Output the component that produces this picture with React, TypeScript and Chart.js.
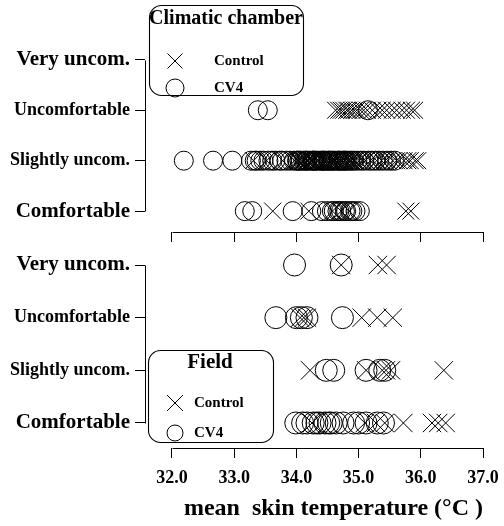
import React, { useEffect, useRef } from 'react';
import { Chart, registerables } from 'chart.js';

Chart.register(...registerables);

const SERIF = "'Liberation Serif', 'Times New Roman', Times, serif";

// category index: 0 = Comfortable ... 3 = Very uncom.
const COMFORT_LABELS = ['Comfortable', 'Slightly uncom.', 'Uncomfortable', 'Very uncom.'];
const COMFORT_TICKS = [0, 1, 2, 3];
const TEMP_TICKS = [32, 33, 34, 35, 36, 37];
const SERIES_NAMES = ['Control', 'CV4'];
const X_TITLE = 'mean  skin temperature (°C )';
const PANEL_TITLES = ['Climatic chamber', 'Field'];

// ---- Climatic chamber (mean skin temperature, °C) ----
const chamberControlComfortable = [33.62, 34.2, 34.58, 34.72, 34.85, 35.76, 35.84];
const chamberControlSlightly = [
  33.31, 33.52, 33.78, 33.97, 34.02, 34.04, 34.09, 34.11, 34.13, 34.17, 34.19, 34.24, 34.26, 34.28,
  34.33, 34.36, 34.41, 34.44, 34.46, 34.49, 34.53, 34.56, 34.58, 34.61, 34.63, 34.67, 34.71, 34.74,
  34.77, 34.79, 34.83, 34.86, 34.88, 34.92, 34.94, 35.01, 35.07, 35.11, 35.19, 35.23, 35.29, 35.37,
  35.43, 35.47, 35.55, 35.61, 35.65, 35.73, 35.79, 35.83, 35.91, 35.95,
];
const chamberControlUncomfortable = [
  34.63, 34.68, 34.72, 34.76, 34.81, 34.84, 34.89, 34.93, 34.97, 35.03, 35.08, 35.14, 35.22, 35.31,
  35.38, 35.45, 35.54, 35.61, 35.7, 35.77, 35.85, 35.9,
];
const chamberControlVeryUncom: number[] = [];

const chamberCV4Comfortable = [
  33.17, 33.29, 33.94, 34.24, 34.41, 34.49, 34.57, 34.6, 34.66, 34.69, 34.72, 34.78, 34.8, 34.87,
  34.9, 34.95, 35.02,
];
const chamberCV4Slightly = [
  32.19, 32.66, 32.97, 33.27, 33.33, 33.36, 33.42, 33.47, 33.55, 33.61, 33.66, 33.73, 33.77, 33.84,
  33.9, 33.96, 34.01, 34.02, 34.05, 34.07, 34.11, 34.14, 34.16, 34.18, 34.22, 34.26, 34.27, 34.29,
  34.31, 34.34, 34.38, 34.41, 34.43, 34.44, 34.47, 34.51, 34.52, 34.54, 34.57, 34.59, 34.62, 34.66,
  34.68, 34.7, 34.73, 34.76, 34.77, 34.79, 34.82, 34.86, 34.89, 34.93, 34.98, 35.04, 35.09, 35.16,
  35.21, 35.27, 35.33, 35.39, 35.46, 35.52, 35.58,
];
const chamberCV4Uncomfortable = [33.38, 33.54, 35.15];
const chamberCV4VeryUncom: number[] = [];

// ---- Field ----
const fieldControlComfortable = [34.25, 35.1, 35.28, 35.42, 35.72, 36.18, 36.28, 36.4];
const fieldControlSlightly = [34.22, 35.12, 35.38, 35.44, 35.52, 36.37];
const fieldControlUncomfortable = [34.06, 34.12, 34.17, 35.05, 35.3, 35.55];
const fieldControlVeryUncom = [34.72, 35.31, 35.45];

const fieldCV4Comfortable = [
  33.99, 34.1, 34.17, 34.27, 34.33, 34.38, 34.46, 34.52, 34.56, 34.64, 34.75, 34.92, 35.0, 35.12,
  35.3, 35.4,
];
const fieldCV4Slightly = [34.48, 34.6, 35.12, 35.34, 35.42];
const fieldCV4Uncomfortable = [33.67, 34.0, 34.08, 34.17, 34.74];
const fieldCV4VeryUncom = [33.97, 34.72];

function toPoints(lists: number[][]) {
  return lists.flatMap((list, i) => list.map((x) => ({ x, y: COMFORT_TICKS[i] })));
}

const axisFrame = {
  id: 'axisFrame',
  afterDraw(chart: any) {
    const { ctx, chartArea, scales } = chart;
    const x = scales.x;
    const y = scales.y;
    ctx.save();
    ctx.strokeStyle = '#000';
    ctx.lineWidth = 1;
    ctx.beginPath();
    const xl = Math.round(chartArea.left) + 0.5;
    ctx.moveTo(xl, Math.round(y.getPixelForValue(COMFORT_TICKS[COMFORT_TICKS.length - 1])) + 0.5);
    ctx.lineTo(xl, Math.round(y.getPixelForValue(COMFORT_TICKS[0])) + 0.5);
    const yb = Math.round(chartArea.bottom) + 0.5;
    ctx.moveTo(Math.round(x.getPixelForValue(TEMP_TICKS[0])) + 0.5, yb);
    ctx.lineTo(Math.round(x.getPixelForValue(TEMP_TICKS[TEMP_TICKS.length - 1])) + 0.5, yb);
    ctx.stroke();
    ctx.restore();
  },
};

const panelLegend = {
  id: 'panelLegend',
  afterDraw(chart: any, _args: any, o: any) {
    const ctx = chart.ctx;
    ctx.save();
    ctx.beginPath();
    ctx.roundRect(o.left + 0.5, o.top + 0.5, o.width, o.height, o.radius);
    ctx.fillStyle = '#fff';
    ctx.fill();
    ctx.strokeStyle = '#000';
    ctx.lineWidth = 1.1;
    ctx.stroke();
    ctx.fillStyle = '#000';
    ctx.textBaseline = 'middle';
    ctx.textAlign = 'center';
    ctx.font = `bold ${o.titleSize}px ${SERIF}`;
    ctx.fillText(o.title, o.titleX, o.titleY);
    ctx.textAlign = 'left';
    ctx.font = `bold ${o.itemSize}px ${SERIF}`;
    ctx.lineWidth = 1;
    chart.data.datasets.forEach((ds: any, i: number) => {
      const cy = o.rowY[i];
      const cx = o.markerX;
      ctx.beginPath();
      if (ds.pointStyle === 'crossRot') {
        const h = o.crossHalf;
        ctx.moveTo(cx - h, cy - h);
        ctx.lineTo(cx + h, cy + h);
        ctx.moveTo(cx + h, cy - h);
        ctx.lineTo(cx - h, cy + h);
      } else {
        ctx.arc(cx, cy, o.circleR, 0, Math.PI * 2);
      }
      ctx.stroke();
      ctx.fillText(ds.label, o.textX, cy);
    });
    ctx.restore();
  },
};

type Panel = {
  width: number;
  height: number;
  yMin: number;
  yMax: number;
  xMin: number;
  xMax: number;
  xAxisHeight: number;
  showXLabels: boolean;
  crossR: number;
  circleR: number;
  control: number[][];
  cv4: number[][];
  legend: any;
};

function buildConfig(p: Panel): any {
  const bigTick = (v: number) => v === COMFORT_TICKS[0] || v === COMFORT_TICKS[COMFORT_TICKS.length - 1];
  return {
    type: 'scatter',
    data: {
      datasets: [
        {
          label: SERIES_NAMES[0],
          data: toPoints(p.control),
          pointStyle: 'crossRot',
          pointRadius: p.crossR,
          pointBorderWidth: 1,
          borderColor: '#000',
          backgroundColor: 'rgba(0,0,0,0)',
          clip: false,
        },
        {
          label: SERIES_NAMES[1],
          data: toPoints(p.cv4),
          pointStyle: 'circle',
          pointRadius: p.circleR,
          pointBorderWidth: 1,
          borderColor: '#000',
          backgroundColor: 'rgba(0,0,0,0)',
          clip: false,
        },
      ],
    },
    options: {
      animation: false,
      responsive: false,
      maintainAspectRatio: false,
      events: [],
      layout: { padding: { left: 0, right: 21, top: 20, bottom: 0 } },
      plugins: {
        legend: { display: false },
        tooltip: { enabled: false },
        panelLegend: p.legend,
      },
      scales: {
        x: {
          type: 'linear',
          position: 'bottom',
          min: p.xMin,
          max: p.xMax,
          afterBuildTicks: (s: any) => {
            s.ticks = TEMP_TICKS.map((value) => ({ value }));
          },
          afterFit: (s: any) => {
            s.height = p.xAxisHeight;
            s.paddingLeft = 0;
            s.paddingRight = 0;
          },
          border: { display: false },
          grid: { drawOnChartArea: false, drawTicks: true, tickLength: 10, color: '#000', lineWidth: 1 },
          ticks: {
            display: p.showXLabels,
            padding: 10,
            color: '#000',
            autoSkip: false,
            maxRotation: 0,
            font: { family: SERIF, weight: 'bold', size: 18 },
            callback: (v: any) => Number(v).toFixed(1),
          },
          title: {
            display: p.showXLabels,
            text: X_TITLE,
            align: 'end',
            color: '#000',
            font: { family: SERIF, weight: 'bold', size: 24 },
            padding: { top: 0, bottom: 3 },
          },
        },
        y: {
          type: 'linear',
          position: 'left',
          min: p.yMin,
          max: p.yMax,
          afterBuildTicks: (s: any) => {
            s.ticks = COMFORT_TICKS.map((value) => ({ value }));
          },
          afterFit: (s: any) => {
            s.width = 145;
            s.paddingTop = 0;
            s.paddingBottom = 0;
          },
          border: { display: false },
          grid: { drawOnChartArea: false, drawTicks: true, tickLength: 10, color: '#000', lineWidth: 1 },
          ticks: {
            padding: 5,
            color: '#000',
            autoSkip: false,
            font: (c: any) => ({
              family: SERIF,
              weight: 'bold',
              size: c.tick && bigTick(c.tick.value) ? 21 : 18,
            }),
            callback: (v: any) => COMFORT_LABELS[COMFORT_TICKS.indexOf(Number(v))] ?? '',
          },
        },
      },
    },
    plugins: [axisFrame, panelLegend],
  };
}

const TOP_PANEL: Panel = {
  width: 504,
  height: 245,
  yMin: -0.414,
  yMax: 3.789,
  xMin: 31.566,
  xMax: 37,
  xAxisHeight: 12,
  showXLabels: false,
  crossR: 12,
  circleR: 9.5,
  control: [chamberControlComfortable, chamberControlSlightly, chamberControlUncomfortable, chamberControlVeryUncom],
  cv4: [chamberCV4Comfortable, chamberCV4Slightly, chamberCV4Uncomfortable, chamberCV4VeryUncom],
  legend: {
    left: 149,
    top: 5,
    width: 154,
    height: 90,
    radius: 12,
    title: PANEL_TITLES[0],
    titleSize: 20,
    titleX: 226,
    titleY: 19,
    markerX: 175,
    textX: 214,
    rowY: [61, 88],
    itemSize: 15,
    crossHalf: 7.5,
    circleR: 9,
  },
};

const BOTTOM_PANEL: Panel = {
  width: 504,
  height: 281,
  yMin: -0.475,
  yMax: 3,
  xMin: 31.566,
  xMax: 37,
  xAxisHeight: 78,
  showXLabels: true,
  crossR: 13,
  circleR: 11,
  control: [fieldControlComfortable, fieldControlSlightly, fieldControlUncomfortable, fieldControlVeryUncom],
  cv4: [fieldCV4Comfortable, fieldCV4Slightly, fieldCV4Uncomfortable, fieldCV4VeryUncom],
  legend: {
    left: 148,
    top: 105,
    width: 125,
    height: 92,
    radius: 12,
    title: PANEL_TITLES[1],
    titleSize: 21,
    titleX: 210,
    titleY: 118,
    markerX: 175,
    textX: 194,
    rowY: [158, 188],
    itemSize: 15,
    crossHalf: 8,
    circleR: 8,
  },
};

function PanelChart({ panel }: { panel: Panel }) {
  const ref = useRef<HTMLCanvasElement | null>(null);
  useEffect(() => {
    if (!ref.current) return;
    const chart = new Chart(ref.current, buildConfig(panel));
    return () => chart.destroy();
  }, [panel]);
  return (
    <canvas
      ref={ref}
      width={panel.width}
      height={panel.height}
      style={{ display: 'block', width: panel.width, height: panel.height }}
    />
  );
}

export default function App() {
  return (
    <div style={{ position: 'absolute', left: 0, top: 0, width: 504, height: 526, background: '#fff' }}>
      <PanelChart panel={TOP_PANEL} />
      <PanelChart panel={BOTTOM_PANEL} />
    </div>
  );
}
